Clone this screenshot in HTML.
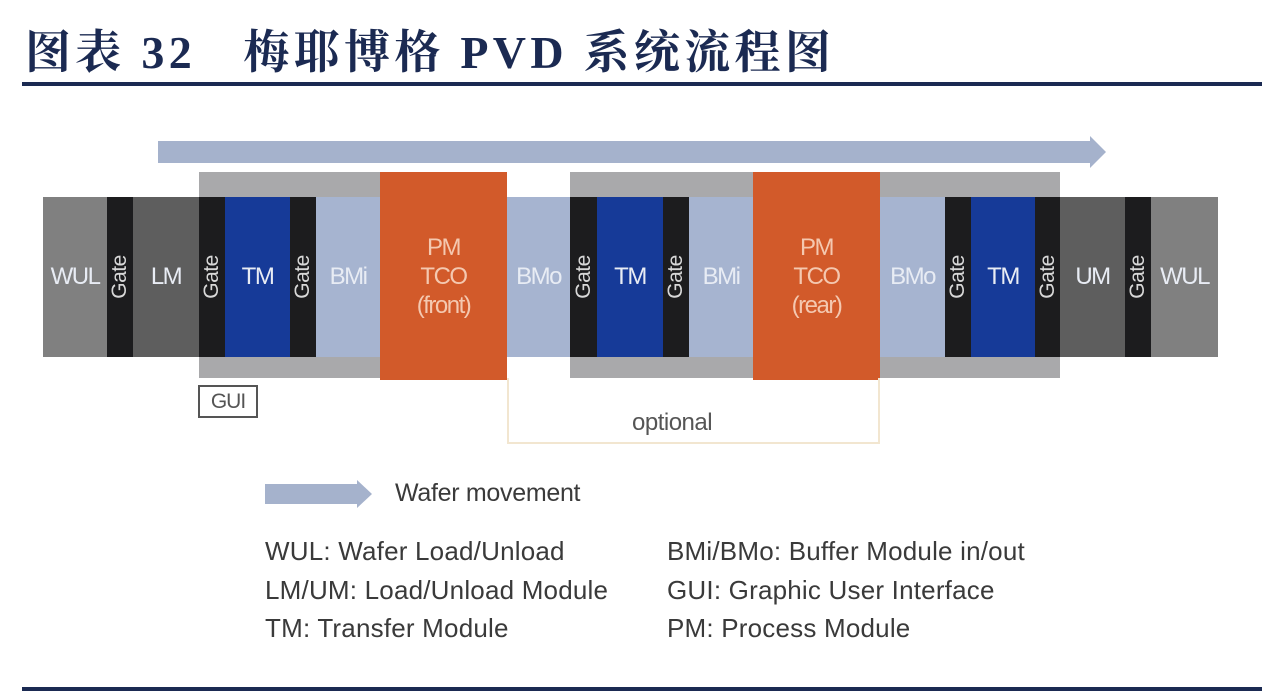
<!DOCTYPE html>
<html><head><meta charset="utf-8"><style>
body{margin:0;width:1280px;height:694px;background:#fff;position:relative;overflow:hidden;font-family:"Liberation Sans",sans-serif}
.a{position:absolute}
.m{position:absolute;top:197px;height:160px;display:flex;align-items:center;justify-content:center;color:#e8ecf4;font-size:24px;letter-spacing:-1.5px}
.g{background:#1c1c1e}
.g span{transform:rotate(-90deg);display:block;font-size:21px;letter-spacing:-0.5px;color:#d8d8d8}
.tm{background:#163a98}
.bm{background:#a6b4d0}
.pm{position:absolute;top:172px;height:208px;background:#d25a2a;color:#f4c8b0;font-size:24px;letter-spacing:-1.5px;text-align:center;line-height:29px;display:flex;align-items:center;justify-content:center}
.leg{position:absolute;font-size:26px;color:#3a3a3a;letter-spacing:0.2px;white-space:nowrap}
</style></head><body>
<div class="a" style="left:25px;top:16px;font-family:'Liberation Serif','Noto Serif CJK SC',serif;font-weight:bold;font-size:46px;color:#1b2a52;letter-spacing:4.3px;white-space:nowrap">图表 32&nbsp;&nbsp; 梅耶博格 PVD 系统流程图</div>
<div class="a" style="left:22px;top:82px;width:1240px;height:4px;background:#1b2a52"></div>
<div class="a" style="left:22px;top:687px;width:1240px;height:4px;background:#1b2a52"></div>

<svg class="a" style="left:0;top:0" width="1280" height="694">
<polygon points="158,141 1090,141 1090,136 1106,152 1090,168 1090,163 158,163" fill="#a5b2cc"/>
<polygon points="265,484 357,484 357,480 372,494 357,508 357,504 265,504" fill="#a5b2cc"/>
</svg>

<div class="a" style="left:199px;top:172px;width:181px;height:206px;background:#a9a9ab"></div>
<div class="a" style="left:570px;top:172px;width:490px;height:206px;background:#a9a9ab"></div>

<div class="m" style="left:43px;width:64px;background:#808080">WUL</div>
<div class="m g" style="left:107px;width:26px"><span>Gate</span></div>
<div class="m" style="left:133px;width:66px;background:#5e5e5e">LM</div>
<div class="m g" style="left:199px;width:26px"><span>Gate</span></div>
<div class="m tm" style="left:225px;width:65px">TM</div>
<div class="m g" style="left:290px;width:26px"><span>Gate</span></div>
<div class="m bm" style="left:316px;width:64px">BMi</div>
<div class="pm" style="left:380px;width:127px">PM<br>TCO<br>(front)</div>
<div class="m bm" style="left:507px;width:63px">BMo</div>
<div class="m g" style="left:570px;width:27px"><span>Gate</span></div>
<div class="m tm" style="left:597px;width:66px">TM</div>
<div class="m g" style="left:663px;width:26px"><span>Gate</span></div>
<div class="m bm" style="left:689px;width:64px">BMi</div>
<div class="pm" style="left:753px;width:127px">PM<br>TCO<br>(rear)</div>
<div class="m bm" style="left:880px;width:65px">BMo</div>
<div class="m g" style="left:945px;width:26px"><span>Gate</span></div>
<div class="m tm" style="left:971px;width:64px">TM</div>
<div class="m g" style="left:1035px;width:25px"><span>Gate</span></div>
<div class="m" style="left:1060px;width:65px;background:#5e5e5e">UM</div>
<div class="m g" style="left:1125px;width:26px"><span>Gate</span></div>
<div class="m" style="left:1151px;width:67px;background:#808080">WUL</div>

<div class="a" style="left:198px;top:385px;width:56px;height:29px;border:2px solid #555;font-size:21px;color:#555;text-align:center;line-height:29px;letter-spacing:-1px">GUI</div>
<div class="a" style="left:507px;top:378px;width:369px;height:64px;border:2px solid #f2e6d0;border-top:none"></div>
<div class="a" style="left:632px;top:409px;font-size:24px;color:#555;letter-spacing:-0.5px">optional</div>

<div class="leg" style="left:395px;top:479px;font-size:25px;letter-spacing:-0.3px">Wafer movement</div>
<div class="leg" style="left:265px;top:536px">WUL: Wafer Load/Unload</div>
<div class="leg" style="left:265px;top:575px">LM/UM: Load/Unload Module</div>
<div class="leg" style="left:265px;top:613px">TM: Transfer Module</div>
<div class="leg" style="left:667px;top:536px">BMi/BMo: Buffer Module in/out</div>
<div class="leg" style="left:667px;top:575px">GUI: Graphic User Interface</div>
<div class="leg" style="left:667px;top:613px">PM: Process Module</div>
</body></html>
